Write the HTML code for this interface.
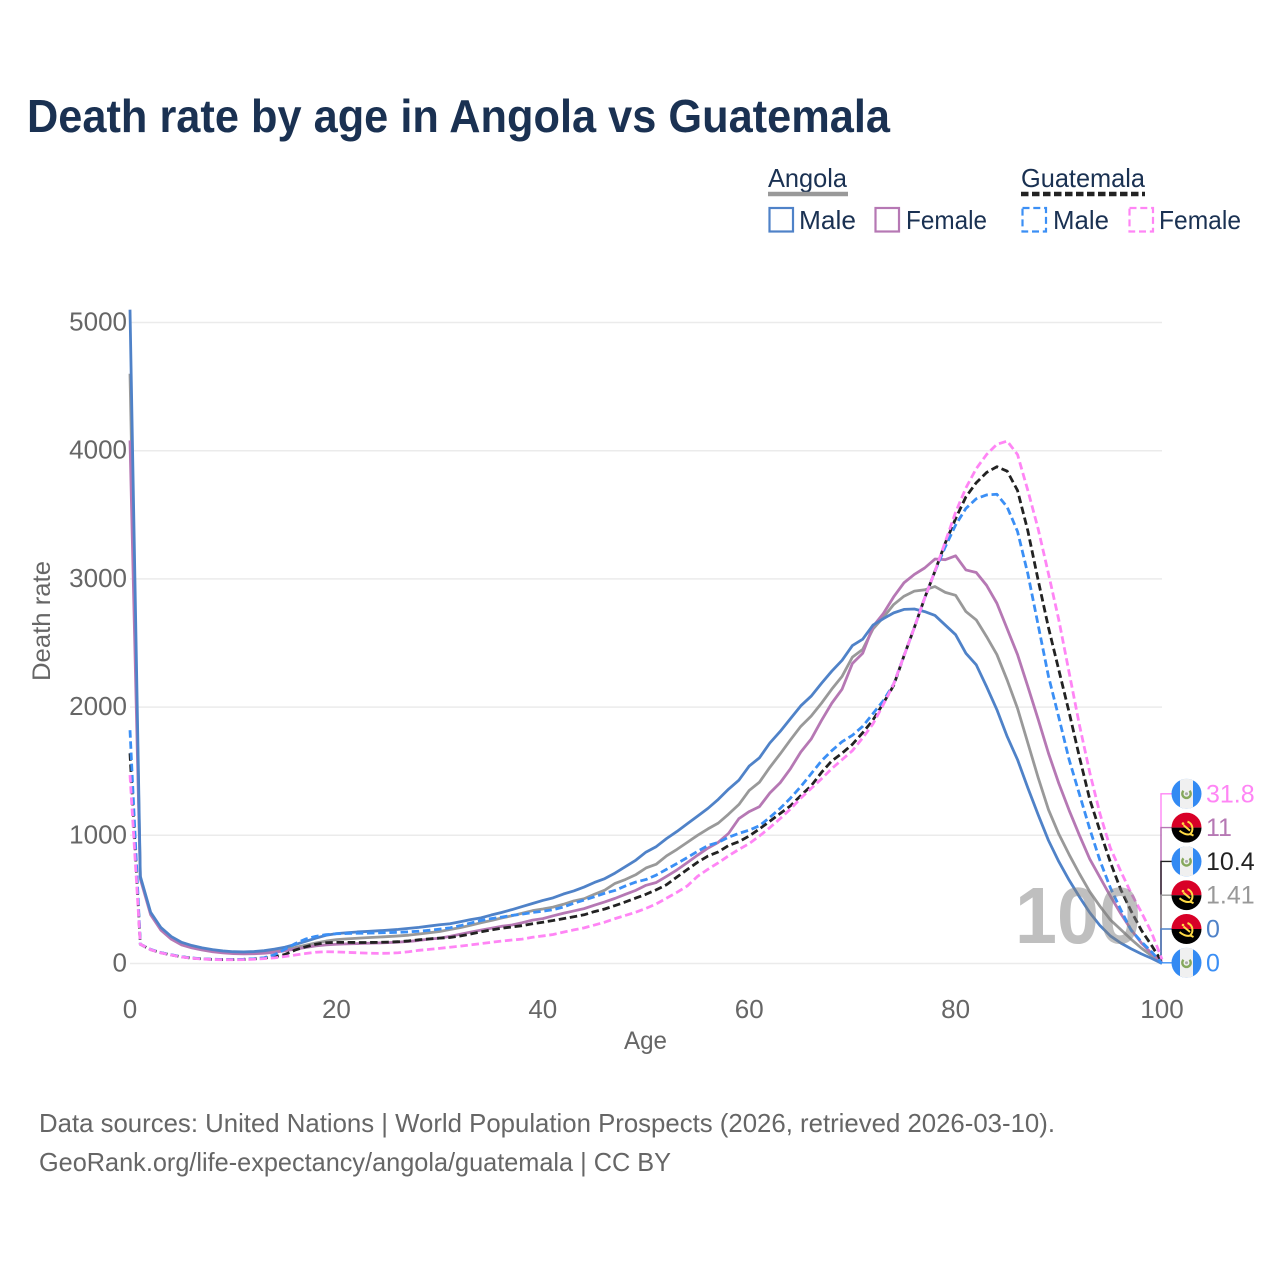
<!DOCTYPE html>
<html lang="en">
<head>
<meta charset="utf-8">
<title>Death rate by age in Angola vs Guatemala</title>
<style>
html,body{margin:0;padding:0;background:#fff;width:1280px;height:1280px;overflow:hidden}
svg{display:block;font-family:"Liberation Sans",sans-serif}
</style>
</head>
<body>
<svg id="chart" xmlns="http://www.w3.org/2000/svg" width="1280" height="1280" viewBox="0 0 1280 1280">
  <rect x="0" y="0" width="1280" height="1280" fill="#fff"/>
  <text x="27" y="132" font-size="46" font-weight="700" fill="#1a3152" textLength="863" lengthAdjust="spacingAndGlyphs">Death rate by age in Angola vs Guatemala</text>

  <g font-size="26" fill="#1a3152">
    <text x="768" y="187" textLength="79" lengthAdjust="spacingAndGlyphs">Angola</text>
    <line x1="768" x2="848" y1="194" y2="194" stroke="#999" stroke-width="4.5"/>
    <text x="1021" y="187" textLength="124" lengthAdjust="spacingAndGlyphs">Guatemala</text>
    <line x1="1021" x2="1145" y1="194" y2="194" stroke="#222" stroke-width="4.5" stroke-dasharray="7.5 3.5"/>

    <rect x="769.5" y="208" width="23.5" height="23.5" fill="none" stroke="#4f82c8" stroke-width="2.2"/>
    <text x="799" y="229" textLength="57" lengthAdjust="spacingAndGlyphs">Male</text>
    <rect x="875.5" y="208" width="23.5" height="23.5" fill="none" stroke="#b678b4" stroke-width="2.2"/>
    <text x="906" y="229" textLength="81" lengthAdjust="spacingAndGlyphs">Female</text>
    <rect x="1022.5" y="208" width="23.5" height="23.5" fill="none" stroke="#3b8ff5" stroke-width="2.2" stroke-dasharray="7 3.8"/>
    <text x="1053" y="229" textLength="56" lengthAdjust="spacingAndGlyphs">Male</text>
    <rect x="1129.5" y="208" width="23.5" height="23.5" fill="none" stroke="#ff85f5" stroke-width="2.2" stroke-dasharray="7 3.8"/>
    <text x="1159" y="229" textLength="82" lengthAdjust="spacingAndGlyphs">Female</text>
  </g>

  <g id="grid"></g>
  <g id="xticks"></g>
  <g id="yticks"></g>
  <text x="645.5" y="1049" font-size="25" fill="#666" text-anchor="middle" textLength="43" lengthAdjust="spacingAndGlyphs">Age</text>
  <text transform="translate(50 621) rotate(-90)" font-size="25" fill="#666" text-anchor="middle" textLength="120" lengthAdjust="spacingAndGlyphs">Death rate</text>

  <g id="leaders"></g>
  <g id="series"></g>
  <text x="1015" y="943" font-size="80" font-weight="700" fill="#808080" fill-opacity="0.5" textLength="126" lengthAdjust="spacingAndGlyphs">100</text>
  <g id="endlabels"></g>

  <text x="39" y="1132" font-size="26" fill="#666" textLength="1016" lengthAdjust="spacingAndGlyphs">Data sources: United Nations | World Population Prospects (2026, retrieved 2026-03-10).</text>
  <text x="39" y="1171" font-size="26" fill="#666" textLength="632" lengthAdjust="spacingAndGlyphs">GeoRank.org/life-expectancy/angola/guatemala | CC BY</text>
</svg>
<script>
const xTickValues = [0, 20, 40, 60, 80, 100];
const yTickValues = [0, 1000, 2000, 3000, 4000, 5000];
const ages = [0,1,2,3,4,5,6,7,8,9,10,11,12,13,14,15,16,17,18,19,20,21,22,23,24,25,26,27,28,29,30,31,32,33,34,35,36,37,38,39,40,41,42,43,44,45,46,47,48,49,50,51,52,53,54,55,56,57,58,59,60,61,62,63,64,65,66,67,68,69,70,71,72,73,74,75,76,77,78,79,80,81,82,83,84,85,86,87,88,89,90,91,92,93,94,95,96,97,98,99,100];
const angolaTotal = [4600,670,390,270,200,155,130,112,98,88,83,81,83,89,99,112,125,142,160,175,186,192,197,202,206,210,215,221,230,240,250,265,280,298,318,335,355,372,392,412,425,440,462,488,505,540,572,625,655,692,745,775,840,890,945,1000,1050,1095,1165,1240,1350,1415,1530,1635,1745,1850,1930,2030,2140,2240,2390,2450,2610,2700,2800,2865,2905,2915,2940,2895,2872,2745,2680,2550,2410,2210,1990,1720,1450,1200,1010,850,700,560,445,340,265,190,120,60,1.41];
const angolaFemale = [4080,660,380,260,190,145,122,105,92,83,77,75,76,80,88,100,112,125,138,145,150,153,155,158,160,163,167,172,180,190,198,212,228,245,260,275,290,300,318,338,350,372,392,410,428,455,480,508,540,570,610,632,680,730,787,845,900,945,1015,1130,1185,1224,1330,1410,1520,1650,1750,1895,2030,2140,2340,2420,2630,2730,2860,2970,3035,3085,3155,3150,3180,3070,3050,2950,2810,2610,2410,2160,1905,1640,1405,1195,1000,815,670,525,390,265,160,78,11];
const angolaMale = [5100,680,400,280,210,165,140,122,108,98,92,90,93,100,112,127,148,172,198,220,233,240,246,250,255,260,266,274,282,292,302,310,326,342,356,378,398,420,444,468,492,512,542,566,596,632,662,705,755,805,869,912,975,1030,1090,1150,1210,1280,1360,1430,1540,1605,1720,1810,1910,2010,2085,2185,2280,2365,2480,2530,2640,2690,2735,2762,2765,2745,2715,2640,2565,2420,2330,2160,1980,1770,1590,1370,1160,960,795,650,520,397,295,215,160,115,75,40,0];
const guatemalaTotal = [1640,150,108,84,66,52,42,36,32,30,30,32,36,42,52,70,105,130,150,162,165,165,164,164,165,167,170,176,185,192,198,203,215,230,247,262,275,285,295,310,322,335,350,365,380,405,425,452,480,510,540,575,615,675,733,790,838,870,920,950,995,1050,1110,1170,1230,1310,1385,1490,1580,1640,1710,1800,1900,2030,2170,2400,2620,2850,3060,3280,3470,3640,3750,3830,3875,3840,3690,3375,2990,2620,2290,1960,1610,1280,1030,790,577,410,260,140,10.4];
const guatemalaMale = [1820,150,110,85,68,53,43,37,33,31,31,33,37,45,68,110,155,190,212,225,232,234,236,237,239,241,243,247,252,259,268,278,295,315,335,350,362,375,385,398,408,420,440,470,495,520,548,570,605,635,655,690,735,780,826,875,920,945,985,1015,1040,1075,1140,1210,1290,1380,1480,1580,1660,1730,1780,1850,1950,2050,2180,2400,2620,2850,3060,3250,3420,3550,3625,3655,3660,3560,3370,3040,2640,2240,1920,1590,1320,1050,800,590,420,260,170,90,0];
const guatemalaFemale = [1470,150,108,83,66,51,41,35,31,29,29,30,33,38,44,55,66,78,88,92,90,87,84,81,79,80,84,92,103,110,118,127,135,145,155,165,175,183,190,205,215,226,245,262,278,300,322,350,375,400,430,465,510,555,605,680,735,785,840,890,935,995,1060,1130,1205,1290,1365,1440,1520,1590,1660,1760,1870,2020,2180,2400,2620,2850,3060,3290,3520,3710,3860,3970,4050,4075,3970,3690,3390,3040,2680,2270,1860,1490,1165,900,720,550,400,240,31.8];

const NS = 'http://www.w3.org/2000/svg';
const plotLeft = 130, plotRight = 1162, plotBottom = 963.5, plotTop = 322.5;
function xScale(age){ return plotLeft + (age / 100) * (plotRight - plotLeft); }
function yScale(v){ return plotBottom - (v / 5000) * (plotBottom - plotTop); }
function make(tag, attrs, parent){
  const el = document.createElementNS(NS, tag);
  for (const k in attrs) el.setAttribute(k, attrs[k]);
  parent.appendChild(el);
  return el;
}
const gridG = document.getElementById('grid');
const xG = document.getElementById('xticks');
const yG = document.getElementById('yticks');
const seriesG = document.getElementById('series');
const leadersG = document.getElementById('leaders');
const labelsG = document.getElementById('endlabels');

yTickValues.forEach(function(v){
  const l = make('line', {x1: plotLeft, x2: plotRight, y1: yScale(v), y2: yScale(v), stroke: '#ebebeb', 'stroke-width': 1.5}, gridG);
  
  
  const t = make('text', {x: 127, y: yScale(v) + 8, 'font-size': 26, fill: '#666', 'text-anchor': 'end'}, yG);
  
  
  t.textContent = v;
});
xTickValues.forEach(function(v){
  const t = make('text', {x: xScale(v), y: 1018, 'font-size': 26, fill: '#666', 'text-anchor': 'middle'}, xG);
  
  
  t.textContent = v;
});

const seriesList = [
  {key: 'angola-total', values: angolaTotal, color: '#999999', dash: '', country: 'angola', text: '#999999'},
  {key: 'angola-female', values: angolaFemale, color: '#b678b4', dash: '', country: 'angola', text: '#b678b4'},
  {key: 'angola-male', values: angolaMale, color: '#4f82c8', dash: '', country: 'angola', text: '#4f82c8'},
  {key: 'guatemala-total', values: guatemalaTotal, color: '#222222', dash: '7.5 3.7', country: 'guatemala', text: '#222222'},
  {key: 'guatemala-male', values: guatemalaMale, color: '#3b8ff5', dash: '7.5 3.7', country: 'guatemala', text: '#3b8ff5'},
  {key: 'guatemala-female', values: guatemalaFemale, color: '#ff85f5', dash: '7.5 3.7', country: 'guatemala', text: '#ff85f5'}
];
seriesList.forEach(function(s){
  const d = s.values.map(function(v, i){
    return (i ? 'L' : 'M') + xScale(ages[i]).toFixed(2) + ' ' + yScale(v).toFixed(2);
  }).join('');
  const p = make('path', {d: d, fill: 'none', stroke: s.color, 'stroke-width': 2.8, 'stroke-linejoin': 'round'}, seriesG);
  if (s.dash) p.setAttribute('stroke-dasharray', s.dash);
  
  
});

function drawFlag(country, cx, cy, parent){
  const g = make('g', {}, parent);
  
  
  const id = 'clip' + Math.round(cy);
  const cp = make('clipPath', {id: id}, g);
  make('circle', {cx: cx, cy: cy, r: 15}, cp);
  const inner = make('g', {'clip-path': 'url(#' + id + ')'}, g);
  if (country === 'guatemala') {
    make('rect', {x: cx - 15, y: cy - 15, width: 30, height: 30, fill: '#338af3'}, inner);
    make('rect', {x: cx - 6.5, y: cy - 15, width: 13, height: 30, fill: '#f0f0f0'}, inner);
    make('path', {d: 'M' + (cx - 3) + ' ' + (cy - 3) + 'a4.2 4.2 0 1 0 6 0', fill: 'none', stroke: '#86a85c', 'stroke-width': 2.4}, inner);
    make('circle', {cx: cx, cy: cy, r: 1.5, fill: '#a9a9a9'}, inner);
  } else {
    make('rect', {x: cx - 15, y: cy - 15, width: 30, height: 15, fill: '#d80027'}, inner);
    make('rect', {x: cx - 15, y: cy, width: 30, height: 15, fill: '#000'}, inner);
    make('path', {d: 'M' + (cx + 1) + ' ' + (cy - 6) + 'a7.5 7.5 0 0 1 2 13', fill: 'none', stroke: '#ffda44', 'stroke-width': 2}, inner);
    make('path', {d: 'M' + (cx - 7) + ' ' + (cy + 3) + 'q6 5 11 3.5l3 1.5', fill: 'none', stroke: '#ffda44', 'stroke-width': 2}, inner);
    make('path', {d: 'M' + (cx - 3) + ' ' + (cy - 2.5) + 'l6.5 5.5', fill: 'none', stroke: '#ffda44', 'stroke-width': 2}, inner);
    make('circle', {cx: cx - 3.5, cy: cy - 4, r: 1.3, fill: '#ffda44'}, inner);
  }
}

const ordered = seriesList.slice().sort(function(a, b){
  const av = a.values[a.values.length - 1], bv = b.values[b.values.length - 1];
  if (bv !== av) return bv - av;
  return seriesList.indexOf(a) - seriesList.indexOf(b);
});
function slotY(i){ return 793.8 + i * 33.8; }
ordered.forEach(function(s, i){
  const endV = s.values[s.values.length - 1];
  const ly = make('path', {d: 'M1161 ' + yScale(endV) + 'L1161 ' + slotY(i) + 'L1172 ' + slotY(i), fill: 'none', stroke: s.color, 'stroke-width': 1.4}, leadersG);
  
  
});
ordered.forEach(function(s, i){
  const endV = s.values[s.values.length - 1];
  drawFlag(s.country, 1186.5, slotY(i), labelsG);
  const t = make('text', {x: 1206, y: slotY(i) + 8.5, 'font-size': 25, fill: s.text}, labelsG);
  
  
  t.textContent = endV;
});
</script>
</body>
</html>
